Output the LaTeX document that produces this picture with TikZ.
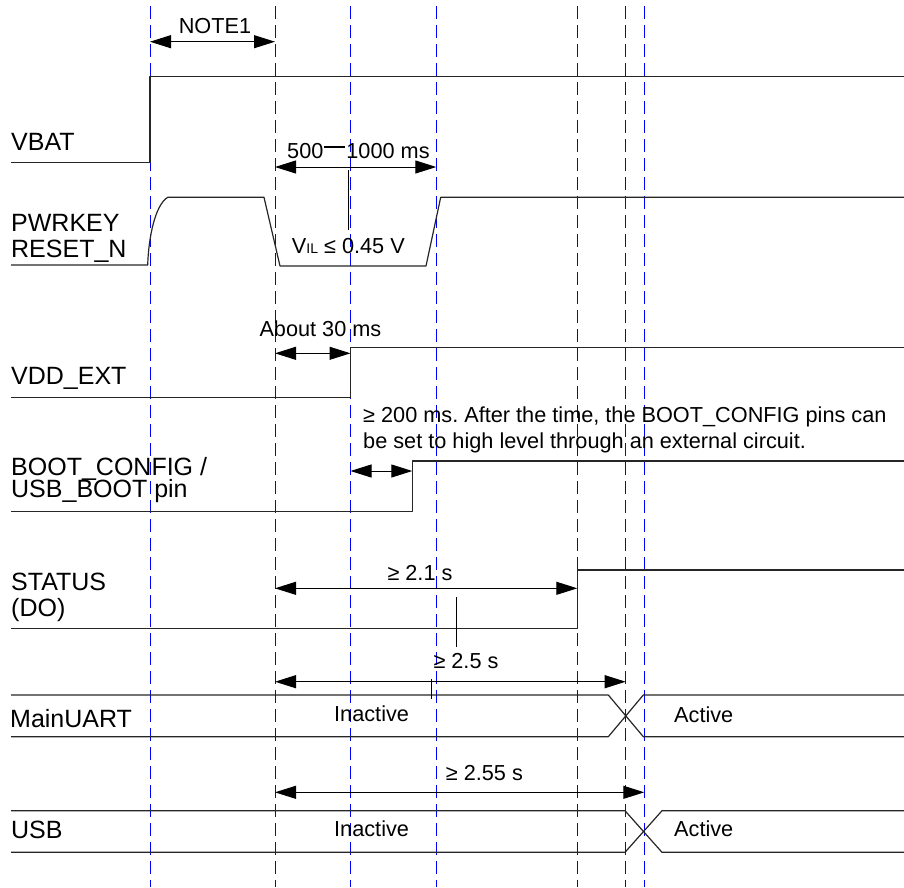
\documentclass[tikz,border=0pt]{standalone}
\usepackage{fontspec}
\setmainfont{Liberation Sans}
\usetikzlibrary{arrows.meta}
\frenchspacing
\begin{document}
\begin{tikzpicture}[x=1pt,y=-1pt,
  sig/.style={line width=1.2pt, draw=black!85, line join=round},
  gridline/.style={draw=blue, line width=1pt, dash pattern=on 13pt off 6pt},
  dimarrow/.style={line width=1pt, {Triangle[length=21pt,width=13pt]}-{Triangle[length=21pt,width=13pt]}},
  lbl/.style={anchor=base west, inner sep=0pt, font=\fontsize{25}{26}\selectfont},
  ann/.style={anchor=base west, inner sep=0pt, font=\fontsize{21.7}{25}\selectfont},
  mk/.style={line width=1pt}]
\useasboundingbox (0,0) rectangle (904,887);
% timing grid
\foreach \x/\n in {150/g1,275/g2,350.5/g3,436.3/g4,577.3/g5,625.7/g6,644.3/g7} {
  \coordinate (\n t) at (\x,6);
  \coordinate (\n b) at (\x,887);
  \draw[gridline] (\n t) -- (\n b);
}
% signal labels
\node[lbl] (lvbat) at (11,150) {VBAT};
\node[lbl] (lpwr) at (11,231.7) {PWRKEY};
\node[lbl] (lrst) at (11,257.3) {RESET\_N};
\node[lbl] (lvdd) at (11,384) {VDD\_EXT};
\node[lbl] (lboot) at (11,475) {BOOT\_CONFIG /};
\node[lbl] (lusbb) at (11,497.5) {USB\_BOOT pin};
\node[lbl] (lstat) at (11,590.7) {STATUS};
\node[lbl] (ldo) at (11,616) {(DO)};
\node[lbl] (luart) at (10,727.3) {MainUART};
\node[lbl] (lusb) at (11,838.3) {USB};
% waveforms
\draw[sig] (11,162.3) -- (150,162.3) -- (150,76.3) -- (904,76.3);
\draw[sig] (11,265) -- (147.7,265) .. controls (148.5,238) and (155,205) .. (167.7,197.3)
  -- (264,197.3) -- (280,266) -- (426,266) -- (440.7,197.3) -- (904,197.3);
\draw[sig] (11,397.7) -- (350.7,397.7) -- (350.7,347.7) -- (904,347.7);
\draw[sig] (11,511.7) -- (412.3,511.7) -- (412.3,461) -- (904,461);
\draw[sig] (11,628.7) -- (577.3,628.7) -- (577.3,570) -- (904,570);
\draw[sig] (11,695) -- (608.3,695) -- (643.3,736.7) -- (904,736.7);
\draw[sig] (11,736.7) -- (608.3,736.7) -- (643.3,695) -- (904,695);
\draw[sig] (11,810.7) -- (625,810.7) -- (662,852.3) -- (904,852.3);
\draw[sig] (11,852.3) -- (625,852.3) -- (662,810.7) -- (904,810.7);
% dimension arrows
\coordinate (a1l) at (150,41.7);   \coordinate (a1r) at (275,41.7);
\coordinate (a2l) at (275,167);    \coordinate (a2r) at (436.3,167);
\coordinate (a3l) at (275,353.3);  \coordinate (a3r) at (350.5,353.3);
\coordinate (a4l) at (350.5,471);  \coordinate (a4r) at (412.3,471);
\coordinate (a5l) at (275,588.3);  \coordinate (a5r) at (577.3,588.3);
\coordinate (a6l) at (275,681.7);  \coordinate (a6r) at (625.7,681.7);
\coordinate (a7l) at (275,792.3);  \coordinate (a7r) at (644.3,792.3);
\draw[dimarrow] (a1l) -- (a1r);
\draw[dimarrow] (a2l) -- (a2r);
\draw[dimarrow] (a3l) -- (a3r);
\draw[dimarrow] (a4l) -- (a4r);
\draw[dimarrow] (a5l) -- (a5r);
\draw[dimarrow] (a6l) -- (a6r);
\draw[dimarrow] (a7l) -- (a7r);
% marker lines
\coordinate (m1t) at (348.7,170); \coordinate (m1b) at (348.7,230);
\coordinate (m2t) at (456.7,597); \coordinate (m2b) at (456.7,647);
\coordinate (m3t) at (431.7,679); \coordinate (m3b) at (431.7,699);
\draw[mk] (m1t) -- (m1b);
\draw[mk] (m2t) -- (m2b);
\draw[mk] (m3t) -- (m3b);
% annotations
\node[ann, anchor=base] (tnote) at (215,33.3) {NOTE1};
\node[ann] (t500) at (287,158.3) {500\kern1pt\rule[10.5pt]{21pt}{2.3pt}\kern1pt1000 ms};
\node[ann] (tvil) at (291.7,253.3) {V{\fontsize{14}{14}\selectfont IL} ≤ 0.45 V};
\node[ann] (t30) at (259.3,336.7) {About 30 ms};
\node[ann] (t200a) at (363,422.7) {≥ 200 ms. After the time, the BOOT\_CONFIG pins can};
\node[ann] (t200b) at (363,448.3) {be set to high level through an external circuit.};
\node[ann] (t21) at (387.3,580) {≥ 2.1 s};
\node[ann] (t25) at (433.3,668.3) {≥ 2.5 s};
\node[ann] (t255) at (445.7,780) {≥ 2.55 s};
\node[ann] (ti1) at (334,721.7) {Inactive};
\node[ann] (ta1) at (674,722.7) {Active};
\node[ann] (ti2) at (334,836) {Inactive};
\node[ann] (ta2) at (674,836.7) {Active};
\end{tikzpicture}
\end{document}
